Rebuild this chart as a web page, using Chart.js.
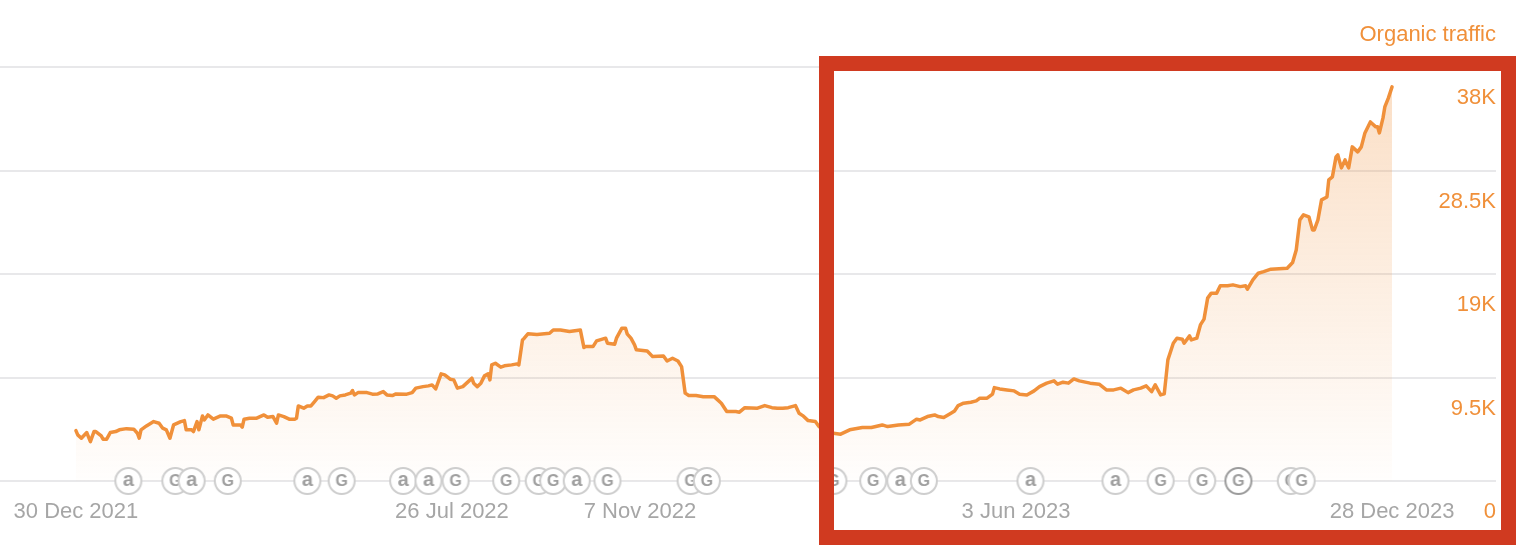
<!DOCTYPE html>
<html>
<head>
<meta charset="utf-8">
<title>Organic traffic</title>
<script src="https://cdn.jsdelivr.net/npm/chart.js@4.4.0/dist/chart.umd.min.js"></script>
<style>
  html, body { margin: 0; padding: 0; background: #fff; }
  #wrap { position: relative; width: 1522px; height: 550px; }
  #highlight {
    position: absolute; left: 819px; top: 56px; width: 697px; height: 489px;
    box-sizing: border-box; border: 15px solid #d03a20; pointer-events: none;
  }
</style>
</head>
<body>
<div id="wrap">
  <canvas id="trafficChart"></canvas>
  <div id="highlight"></div>
</div>
<script>
// days since 30 Dec 2021
const trafficDays = [0,1,3,6,8,10,11,14,15,17,19,22,24,28,32,34,35,36,39,43,46,48,50,52,54,58,60,61,64,65,67,68,70,71,73,76,80,83,86,87,91,92,93,96,100,104,106,109,111,112,115,118,121,122,123,126,128,130,132,134,137,140,142,144,146,149,152,153,154,156,161,164,167,170,172,175,177,183,186,188,192,195,197,199,202,204,207,209,211,214,217,219,220,222,224,226,228,229,230,232,235,237,241,244,245,247,248,250,255,262,264,268,273,279,281,282,286,288,293,294,298,299,302,304,305,307,309,310,316,319,325,327,330,333,335,337,339,343,347,353,355,357,360,362,365,367,370,377,381,385,388,391,394,398,400,402,405,409,411,415,419,423,428,435,440,446,449,455,461,465,467,471,475,477,480,484,486,488,491,495,498,500,504,507,508,511,515,519,522,526,530,533,537,541,543,546,549,552,555,561,566,570,574,578,582,585,589,592,595,597,600,602,604,607,609,612,613,616,617,620,622,624,626,628,631,633,637,640,644,647,648,651,654,657,661,670,673,675,677,679,682,684,685,687,689,692,693,695,697,698,700,702,704,706,709,711,713,716,719,720,721,723,724,726,728];
const trafficValues = [4630,4240,3930,4450,3620,4540,4540,4140,3840,3840,4450,4540,4700,4810,4760,4390,3930,4700,5060,5460,5310,4850,4700,3930,5150,5460,5550,4700,4700,4540,5460,4700,5980,5610,6070,5680,5980,5980,5770,5150,5150,4940,5680,5770,5770,6070,5860,5920,5310,6070,5920,5680,5680,5770,6900,6690,6900,6900,7300,7700,7660,7910,7820,7610,7820,7910,8070,8310,7910,8120,8120,7980,8000,8210,7910,7850,8000,7980,8120,8530,8670,8740,8830,8460,9840,9750,9350,9290,8530,8670,9130,9450,8990,8670,8990,9660,9840,9290,10670,10820,10460,10580,10670,10760,10670,12960,13120,13520,13470,13580,13880,13880,13730,13880,12260,12350,12350,12870,13120,12660,12570,13120,14040,14040,13490,13120,12500,12050,11950,11430,11490,11030,11280,11030,10510,8070,7850,7850,7750,7750,7450,7150,6380,6380,6380,6320,6740,6690,6930,6740,6690,6690,6740,6930,6230,6010,5550,5460,5000,4700,4390,4300,4700,4910,4910,5150,5000,5150,5220,5680,5610,5920,6070,5920,5830,6230,6440,6930,7150,7240,7360,7610,7610,7980,8580,8460,8370,8280,7980,7910,8280,8670,8990,9200,8890,9080,8990,9380,9200,8990,8890,8370,8370,8530,8120,8370,8530,8740,8210,8830,7910,8000,11130,12660,13120,13030,12660,13330,12960,13120,14340,14870,16800,17260,17260,17930,17930,18020,17860,17930,17620,18480,19090,19240,19460,19550,20070,21230,23990,24450,24270,23070,23070,23990,25830,26100,27670,27940,29780,29960,28770,29500,28770,30700,30240,30700,31980,32990,32540,32540,31980,33360,34370,35200,36210];

// x axis labels
const xTickDays = [0, 208, 312, 520, 728];
const xTickLabels = ['30 Dec 2021', '26 Jul 2022', '7 Nov 2022', '3 Jun 2023', '28 Dec 2023'];

// y axis labels
const yTicks = [0, 9500, 19000, 28500, 38000];
const yTickLabels = ['0', '9.5K', '19K', '28.5K', '38K'];

// update markers on the baseline: a = Ahrefs, G = Google
const markerDays = [29,55,64,84,128,147,181,195,210,238,256,264,277,294,340,349,419,441,456,469,528,575,600,623,643,672,678];
const markerTypes = ['a','G','a','G','a','G','a','a','G','G','G','G','a','G','G','G','G','G','a','G','a','a','G','G','G2','G','G'];

const ORANGE = '#f0903a';
const FONT = "'Liberation Sans', Arial, Helvetica, sans-serif";

function makeMarker(letter, ring) {
    const c = document.createElement('canvas');
    c.width = 30; c.height = 30;
    const g = c.getContext('2d');
    g.beginPath();
    g.arc(15, 15, 13, 0, Math.PI * 2);
    g.fillStyle = '#fff';
    g.fill();
    g.lineWidth = 2;
    g.strokeStyle = ring;
    g.stroke();
    g.fillStyle = '#a0a0a0';
    g.font = 'bold ' + (letter === 'a' ? 20 : 16) + 'px ' + FONT;
    g.textAlign = 'center';
    g.textBaseline = 'middle';
    g.fillText(letter, 15, letter === 'a' ? 14 : 16);
    return c;
}

const markerStyles = {
    a: makeMarker('a', '#cecece'),
    G: makeMarker('G', '#cecece'),
    G2: makeMarker('G', '#9c9c9c')
};

const ctx = document.getElementById('trafficChart').getContext('2d');

new Chart(ctx, {
    type: 'line',
    data: {
        datasets: [{
            // markers first so they sit on top
            type: 'scatter',
            data: markerDays.map(d => ({ x: d, y: 0 })),
            pointStyle: markerTypes.map(t => markerStyles[t]),
            clip: false
        }, {
            data: trafficDays.map((d, i) => ({ x: d, y: trafficValues[i] })),
            borderColor: ORANGE,
            borderWidth: 3.5,
            borderJoinStyle: 'round',
            borderCapStyle: 'round',
            pointRadius: 0,
            tension: 0,
            fill: 'origin',
            backgroundColor: (c) => {
                const area = c.chart.chartArea;
                if (!area) return 'rgba(240,144,58,0.1)';
                const grad = c.chart.ctx.createLinearGradient(0, area.top, 0, area.bottom);
                grad.addColorStop(0, 'rgba(240,144,58,0.30)');
                grad.addColorStop(1, 'rgba(240,144,58,0.01)');
                return grad;
            }
        }]
    },
    options: {
        responsive: true,
        maintainAspectRatio: false,
        animation: false,
        layout: { autoPadding: false, padding: { top: 0, right: 26, bottom: 24.6, left: 0 } },
        plugins: {
            legend: { display: false },
            tooltip: { enabled: false },
            title: {
                display: true,
                text: 'Organic traffic',
                align: 'end',
                color: ORANGE,
                font: { family: FONT, size: 22, weight: 'normal' },
                padding: { top: 22, bottom: 19 }
            }
        },
        scales: {
            x: {
                type: 'linear',
                min: -42,
                max: 785.5,
                grid: { display: false, drawTicks: true, tickLength: 18 },
                border: { display: false },
                afterBuildTicks: (s) => { s.ticks = xTickDays.map(v => ({ value: v })); },
                ticks: {
                    autoSkip: false,
                    maxRotation: 0,
                    padding: 0,
                    color: '#a6a6a6',
                    font: { family: FONT, size: 22 },
                    callback: (v) => xTickLabels[xTickDays.indexOf(v)]
                }
            },
            y: {
                position: 'right',
                min: 0,
                max: 38000,
                border: { display: false },
                grid: { color: '#e8e8ea', lineWidth: 2, drawTicks: false },
                afterBuildTicks: (s) => { s.ticks = yTicks.map(v => ({ value: v })); },
                ticks: {
                    mirror: true,
                    padding: 0,
                    labelOffset: 31,
                    color: ORANGE,
                    font: { family: FONT, size: 22 },
                    callback: (v) => yTickLabels[yTicks.indexOf(v)]
                }
            }
        }
    }
});
</script>
</body>
</html>
